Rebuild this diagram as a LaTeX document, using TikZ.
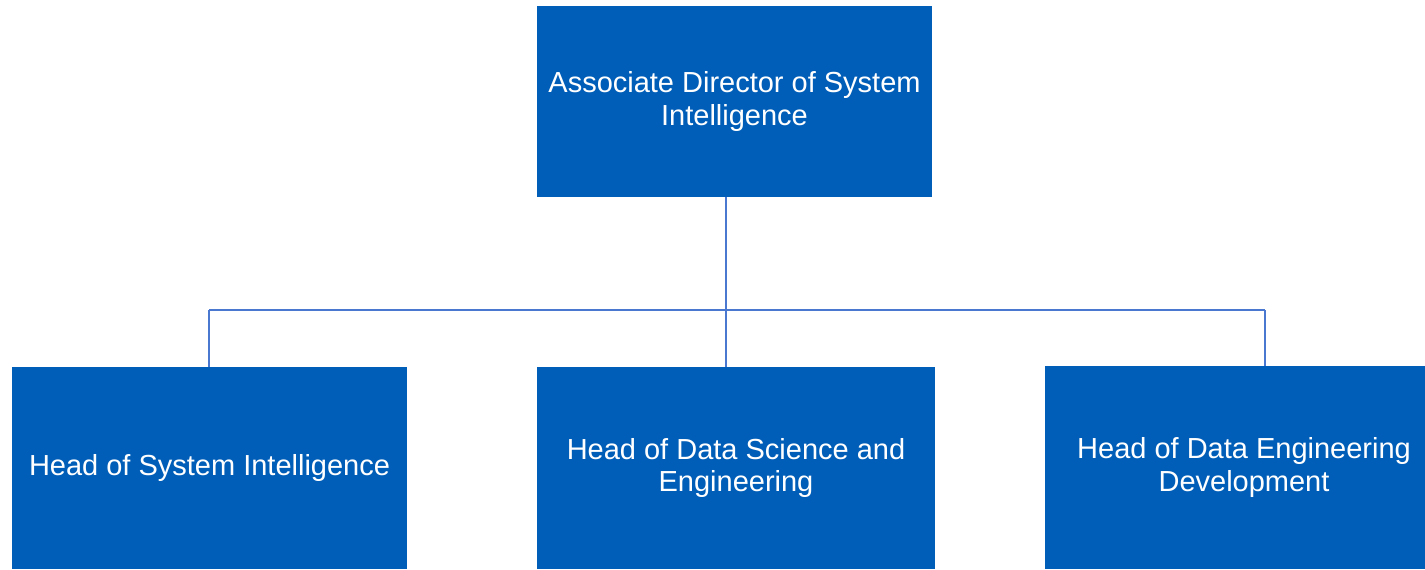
\documentclass[tikz,border=0pt]{standalone}
\usepackage{fontspec}
\setmainfont{Liberation Sans}
\usepackage{tikz}
\usetikzlibrary{positioning}

\definecolor{boxblue}{HTML}{005EB8}
\definecolor{lineblue}{HTML}{4A78D0}

\tikzset{
  orgbox/.style={fill=boxblue, draw=none, text=white, align=center,
    minimum width=7.9cm, inner sep=0pt,
    font=\fontsize{16.5}{18.6}\selectfont},
  link/.style={lineblue, line width=0.8pt}
}

\begin{document}
\begin{tikzpicture}[x=0.02cm, y=-0.02cm]
    \useasboundingbox (0,0) rectangle (1425,569);
    \clip (0,0) rectangle (1425,569);
    % boxes
    \node[orgbox, minimum height=3.82cm] (director) at (734.5,101.5) {Associate Director of System\\Intelligence};
    \node[orgbox, minimum height=4.04cm] (headsi) at (209.5,468) {Head of System Intelligence};
    \node[orgbox, minimum width=7.96cm, minimum height=4.04cm] (headds) at (736,468) {Head of Data Science and\\Engineering};
    \node[orgbox, minimum width=7.96cm, minimum height=4.06cm] (headde) at (1244,467.5) {Head of Data Engineering\\Development};
    % connectors
    \coordinate (busL) at (209,310);
    \coordinate (busM) at (726,310);
    \coordinate (busR) at (1265,310);
    \draw[link] (busM |- director.south) -- (busM);
    \draw[link] (busL) -- (busR);
    \draw[link] (busL) -- (busL |- headsi.north);
    \draw[link] (busM) -- (busM |- headds.north);
    \draw[link] (busR) -- (busR |- headde.north);
\end{tikzpicture}
\end{document}
